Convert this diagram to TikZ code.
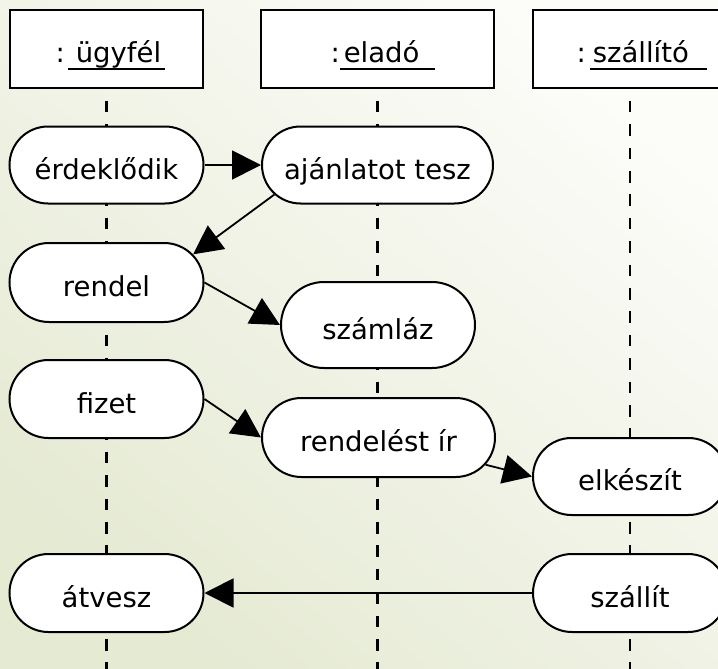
\documentclass[tikz,border=0pt]{standalone}
\usepackage{fontspec}
\setmainfont{DejaVu Sans}
\usetikzlibrary{shapes.misc,arrows.meta,calc}
\newsavebox\ulbox
% underlined label: #1 = underline width, #2 = left pad, #3 = text
\newcommand\hul[3]{\sbox\ulbox{\makebox[#1][l]{\hspace{#2}#3}}\rlap{\rule[-7pt]{\wd\ulbox}{2pt}}\usebox\ulbox}
\definecolor{bgtop}{RGB}{252,252,249}
\definecolor{bgbot}{RGB}{229,234,211}
\begin{document}
\begin{tikzpicture}[x=1pt,y=-1pt,
  font=\fontsize{27.5}{31}\selectfont,
  act/.style={rounded rectangle, draw=black, line width=2pt, fill=white,
    minimum width=194pt, minimum height=77pt, inner sep=0pt,
    text height=28pt, text depth=0pt},
  hdr/.style={rectangle, draw=black, line width=2pt, fill=white,
    minimum height=78pt, inner sep=0pt},
  htext/.style={anchor=base east, inner sep=0pt},
  life/.style={line width=2.2pt, dash pattern=on 11.7pt off 11.7pt, dash phase=11.7pt},
  msg/.style={line width=1.8pt, -{Triangle[length=29pt,width=29pt]}}]
\clip (0,0) rectangle (718,669);
\shade[top color=bgtop, bottom color=bgbot, shading angle=-40] (0,0) rectangle (718,669);

% headers
\node[hdr, minimum width=193pt] (h1) at (106.5,49) {};
\node[hdr, minimum width=233pt] (h2) at (377.5,49) {};
\node[hdr, minimum width=194pt] (h3) at (630,49) {};
\node[htext] (h1t) at (165,63) {:\hspace{3pt}\hul{97pt}{8pt}{ügyfél}};
\node[htext] (h2t) at (435,63) {:\hul{95pt}{4pt}{eladó}};
\node[htext] (h3t) at (707,63) {:\hspace{4pt}\hul{117pt}{3pt}{szállító}};

% lifelines
\coordinate (b1) at (106.5,669);
\coordinate (b2) at (377.5,669);
\coordinate (b3) at (630,669);
\draw[life] (h1.south) -- (b1);
\draw[life] (h2.south) -- (b2);
\draw[life] (h3.south) -- (b3);

% activities
\node[act] (erd) at (106.5,165) {\makebox[0pt]{érdeklődik}};
\node[act, minimum width=231pt] (aj) at (377.5,165) {\makebox[0pt]{ajánlatot tesz}};
\node[act, minimum height=79pt] (ren) at (106.5,282.5) {\makebox[0pt]{rendel}};
\node[act, minimum height=86pt] (sza) at (378,325) {\makebox[0pt]{számláz}};
\node[act, minimum height=78pt] (fiz) at (106.5,399) {\makebox[0pt]{fizet}};
\node[act, minimum width=233pt, minimum height=79pt] (rir) at (378.5,437.5) {\makebox[0pt]{rendelést ír}};
\node[act] (elk) at (630,476.5) {\makebox[0pt]{elkészít}};
\node[act, minimum height=78pt] (atv) at (106.5,593) {\makebox[0pt]{átvesz}};
\node[act, minimum height=78pt] (szl) at (630,593) {\makebox[0pt]{szállít}};

% messages
\draw[msg] (erd.east) -- (aj.west);
\draw[msg] (aj.196) -- (ren.18);
\draw[msg] (ren.east) -- (sza.west);
\draw[msg] (fiz.east) -- (rir.west);
\draw[msg] (rir) -- (elk.west);
\draw[msg] (szl.west) -- (atv.east);
\end{tikzpicture}
\end{document}
